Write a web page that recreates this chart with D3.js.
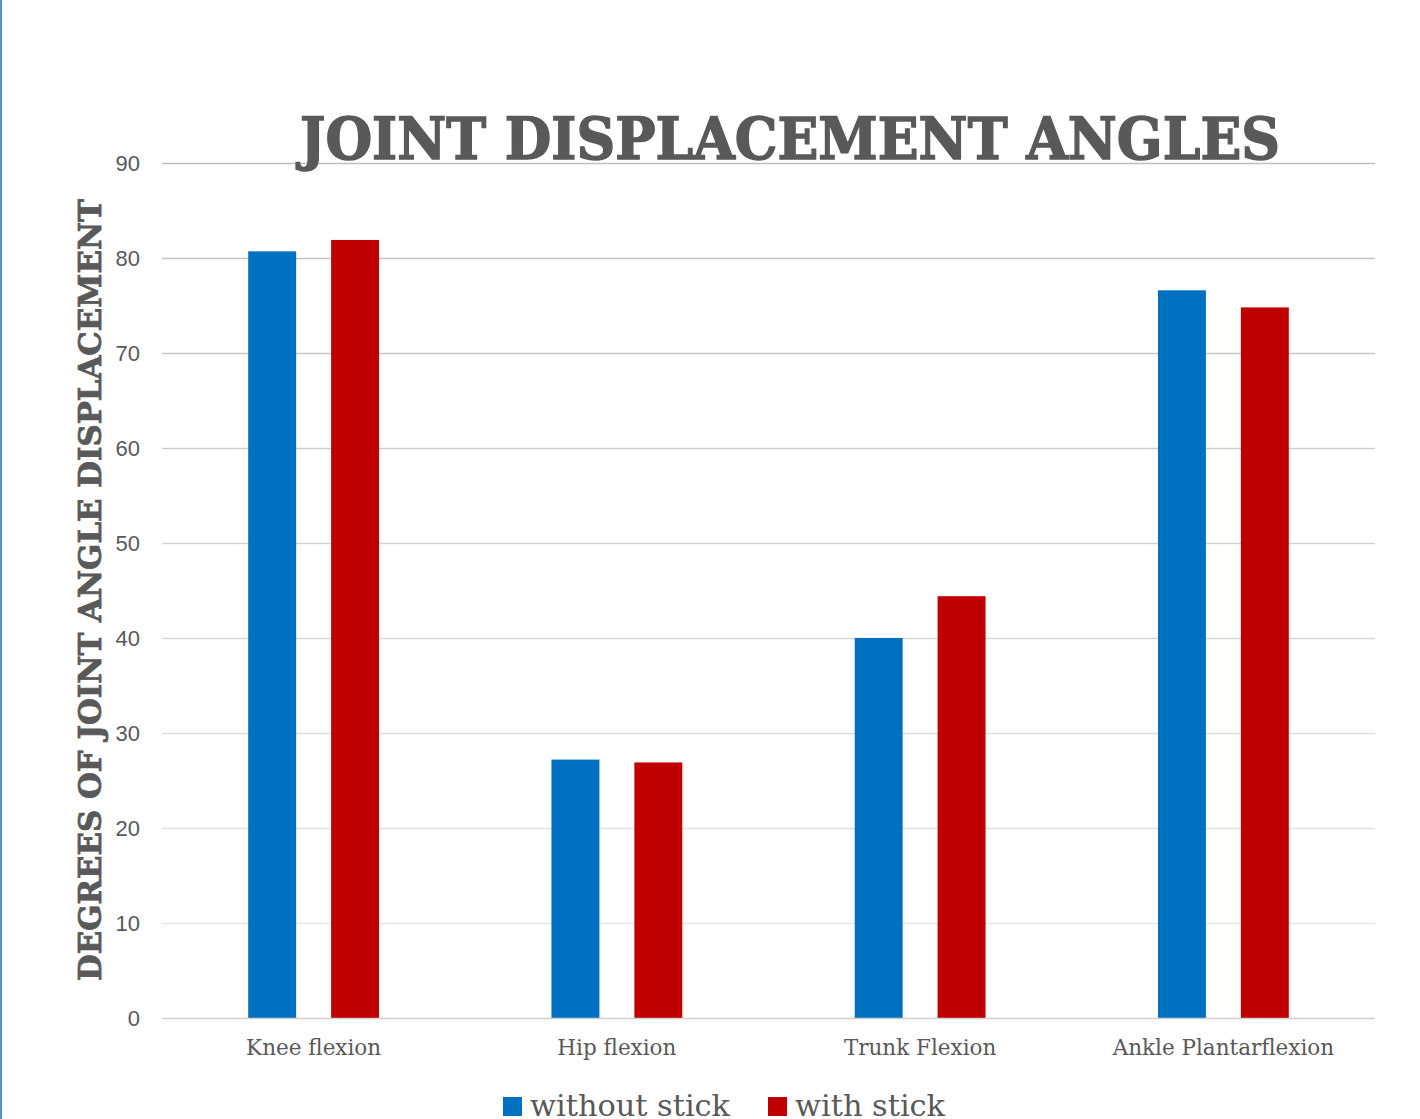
<!DOCTYPE html>
<html>
<head>
<meta charset="utf-8">
<script src="https://cdn.jsdelivr.net/npm/d3@7"></script>
<style>
  html, body { margin: 0; padding: 0; background: #fff; }
  svg { display: block; }
</style>
</head>
<body>
<script>
const categories = ["Knee flexion", "Hip flexion", "Trunk Flexion", "Ankle Plantarflexion"];
const seriesNames = ["without stick", "with stick"];
const withoutStick = [80.7, 27.2, 40.0, 76.6];
const withStick = [81.9, 26.9, 44.4, 74.8];
const yTicks = [0, 10, 20, 30, 40, 50, 60, 70, 80, 90];
const colors = ["#0070C0", "#C00000"];

const W = 1420, H = 1119;
const margin = { left: 162, right: 45, top: 163, bottom: 101 };
const svg = d3.select("body").append("svg").attr("width", W).attr("height", H);

// left blue border
svg.append("rect").attr("x", 0).attr("y", 0).attr("width", 2).attr("height", H).attr("fill", "#5b8fd6");

const x0 = d3.scaleBand().domain(categories).range([margin.left, W - margin.right]).paddingInner(0).paddingOuter(0);
const x1 = d3.scaleBand().domain(seriesNames).range([0, x0.bandwidth()]).paddingInner(0.4217).paddingOuter(1.04);
const y = d3.scaleLinear().domain([0, 90]).range([H - margin.bottom, margin.top]);

const gridColor = d3.scaleLinear().domain([0, 90]).range(["#ececec", "#bfbfbf"]);

// y axis labels
const yAxis = d3.axisLeft(y).tickValues(yTicks).tickSize(0).tickPadding(22);
const gy = svg.append("g").attr("transform", `translate(${margin.left},0)`).call(yAxis);
gy.select(".domain").remove();
gy.selectAll("text").attr("font-family", "Liberation Sans, Arial, sans-serif").attr("font-size", 22).attr("fill", "#595959");

// gridlines
svg.append("g").selectAll("line").data(yTicks.filter(d => d > 0)).join("line")
  .attr("x1", margin.left).attr("x2", W - margin.right)
  .attr("y1", d => Math.round(y(d)) + 0.5).attr("y2", d => Math.round(y(d)) + 0.5)
  .attr("stroke", d => gridColor(d)).attr("stroke-width", 1.5);

// bars
const data = categories.map((c, i) => ({ c, vals: [withoutStick[i], withStick[i]] }));
const groups = svg.append("g").selectAll("g").data(data).join("g")
  .attr("transform", d => `translate(${x0(d.c)},0)`);
groups.selectAll("rect").data(d => d.vals.map((v, j) => ({ v, s: seriesNames[j], j }))).join("rect")
  .attr("x", d => x1(d.s)).attr("width", x1.bandwidth())
  .attr("y", d => y(d.v)).attr("height", d => y(0) - y(d.v))
  .attr("fill", d => colors[d.j]);

// x axis baseline
svg.append("line").attr("x1", margin.left).attr("x2", W - margin.right)
  .attr("y1", y(0) + 0.5).attr("y2", y(0) + 0.5).attr("stroke", "#d0d0d0").attr("stroke-width", 1.5);

// x axis labels
const xAxis = d3.axisBottom(x0).tickSize(0).tickPadding(22);
const gx = svg.append("g").attr("transform", `translate(0,${y(0)})`).call(xAxis);
gx.select(".domain").remove();
gx.selectAll("text").attr("font-family", "DejaVu Serif, serif").attr("font-size", 21.5).attr("fill", "#595959");

// title
svg.append("text").attr("x", 790).attr("y", 159).attr("text-anchor", "middle")
  .attr("font-family", "DejaVu Serif, serif").attr("font-weight", "bold").attr("font-size", 58)
  .attr("fill", "#595959").attr("stroke", "#595959").attr("stroke-width", 1.5)
  .attr("textLength", 980).attr("lengthAdjust", "spacingAndGlyphs")
  .text("JOINT DISPLACEMENT ANGLES");

// y axis title
svg.append("text").attr("transform", "translate(101,590) rotate(-90)").attr("text-anchor", "middle")
  .attr("font-family", "DejaVu Serif, serif").attr("font-weight", "bold").attr("font-size", 32)
  .attr("fill", "#595959").attr("stroke", "#595959").attr("stroke-width", 0.8)
  .attr("textLength", 782).attr("lengthAdjust", "spacingAndGlyphs")
  .text("DEGREES OF JOINT ANGLE DISPLACEMENT");

// legend
const legendX = [503, 768];
const legendLen = [200, 150];
const lg = svg.append("g").selectAll("g").data(seriesNames).join("g")
  .attr("transform", (d, i) => `translate(${legendX[i]},0)`);
lg.append("rect").attr("x", 0).attr("y", 1097).attr("width", 19).attr("height", 19).attr("fill", (d, i) => colors[i]);
lg.append("text").attr("x", 27).attr("y", 1116)
  .attr("font-family", "DejaVu Serif, serif").attr("font-size", 29).attr("fill", "#595959")
  .attr("textLength", (d, i) => legendLen[i]).attr("lengthAdjust", "spacingAndGlyphs")
  .text(d => d);
</script>
</body>
</html>
